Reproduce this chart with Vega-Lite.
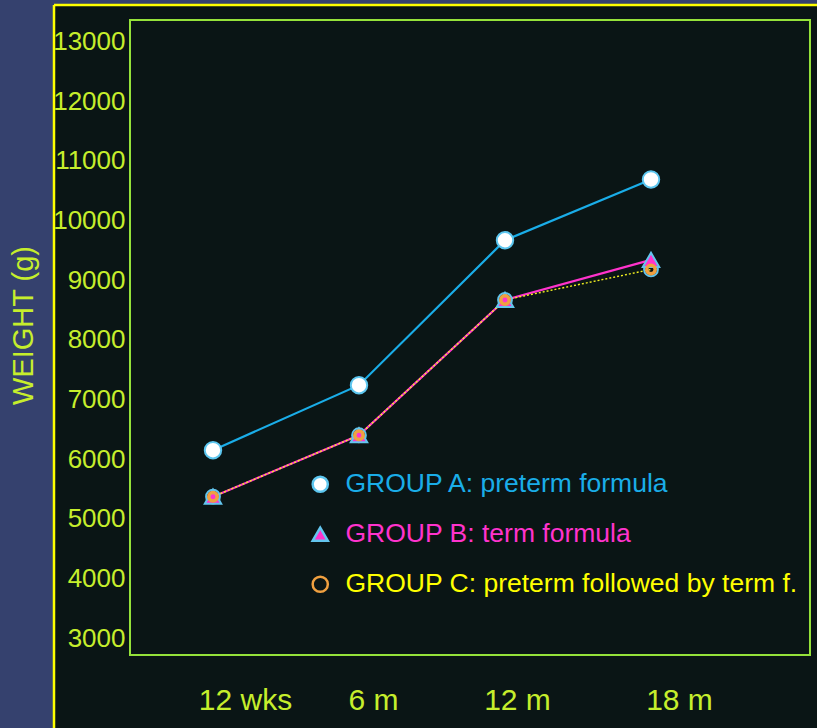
{
  "$schema": "https://vega.github.io/schema/vega-lite/v6.json",
  "width": 763,
  "height": 723,
  "autosize": "none",
  "padding": {"left": 54, "top": 5, "right": 0, "bottom": 0},
  "background": "#35416e",
  "config": {
    "view": {"fill": "#0a1515", "stroke": null},
    "font": "Liberation Sans"
  },
  "data": {
    "values": [
      {"g": "GROUP A: preterm formula", "t": 1, "w": 6150},
      {"g": "GROUP A: preterm formula", "t": 2, "w": 7240},
      {"g": "GROUP A: preterm formula", "t": 3, "w": 9670},
      {"g": "GROUP A: preterm formula", "t": 4, "w": 10690},
      {"g": "GROUP B: term formula", "t": 1, "w": 5370},
      {"g": "GROUP B: term formula", "t": 2, "w": 6400},
      {"g": "GROUP B: term formula", "t": 3, "w": 8670},
      {"g": "GROUP B: term formula", "t": 4, "w": 9340},
      {"g": "GROUP C: preterm followed by term f.", "t": 1, "w": 5370},
      {"g": "GROUP C: preterm followed by term f.", "t": 2, "w": 6400},
      {"g": "GROUP C: preterm followed by term f.", "t": 3, "w": 8670},
      {"g": "GROUP C: preterm followed by term f.", "t": 4, "w": 9180}
    ]
  },
  "layer": [
    {
      "data": {"values": [{"x1": 0.4315, "x2": 5.089, "y1": 2715, "y2": 13364}]},
      "mark": {"type": "rect", "fill": "transparent", "stroke": "#95e23a", "strokeWidth": 2},
      "encoding": {
        "x": {"field": "x1", "type": "quantitative", "scale": {"domain": [-0.089, 5.137], "nice": false, "zero": false}},
        "x2": {"field": "x2"},
        "y": {"field": "y1", "type": "quantitative", "scale": {"domain": [1491, 13615], "nice": false, "zero": false}},
        "y2": {"field": "y2"}
      }
    },
    {
      "data": {"values": [{"edge": -0.089}]},
      "mark": {"type": "rule", "color": "#ffff00", "strokeWidth": 2.5},
      "encoding": {
        "x": {"field": "edge", "type": "quantitative"}
      }
    },
    {
      "data": {"values": [{"edge": 13615}]},
      "mark": {"type": "rule", "color": "#ffff00", "strokeWidth": 2.5},
      "encoding": {
        "y": {"field": "edge", "type": "quantitative"}
      }
    },
    {
      "transform": [{"filter": "datum.g !== 'GROUP C: preterm followed by term f.'"}],
      "mark": {"type": "line", "strokeWidth": 2.2},
      "encoding": {
        "x": {
          "field": "t", "type": "quantitative",
          "axis": {
            "title": null, "values": [1, 2, 3, 4],
            "labelExpr": "datum.value == 1 ? '12 wks' : datum.value == 2 ? '6 m' : datum.value == 3 ? '12 m' : '18 m'",
            "labelFontSize": 30, "labelColor": "#c6ee2c", "labelFont": "Liberation Sans",
            "labelPadding": -28, "labelBaseline": "middle",
            "labelOffset": {"expr": "datum.value == 1 ? 32 : datum.value == 2 ? 14 : datum.value == 3 ? 12 : 28"},
            "ticks": false, "tickSize": 0, "domain": false, "grid": false, "labelOverlap": false, "labelFlush": false
          }
        },
        "y": {
          "field": "w", "type": "quantitative",
          "axis": {
            "title": "WEIGHT (g)", "titleFontSize": 29, "titleColor": "#c6ee2c", "titleFont": "Liberation Sans", "titleFontWeight": "normal",
            "titleX": -31, "titleY": 320, "titleAngle": 270, "titleAlign": "center", "titleBaseline": "middle",
            "values": [3000, 4000, 5000, 6000, 7000, 8000, 9000, 10000, 11000, 12000, 13000],
            "format": "d",
            "labelFontSize": 26, "labelColor": "#c6ee2c", "labelFont": "Liberation Sans",
            "labelPadding": -71, "labelAlign": "right", "labelBaseline": "middle",
            "ticks": false, "tickSize": 0, "domain": false, "grid": false, "labelOverlap": false, "labelFlush": false
          }
        },
        "color": {
          "field": "g", "type": "nominal",
          "scale": {
            "domain": ["GROUP A: preterm formula", "GROUP B: term formula"],
            "range": ["#1aade8", "#ff33cc"]
          },
          "legend": null
        }
      }
    },
    {
      "transform": [{"filter": "datum.g === 'GROUP C: preterm followed by term f.'"}],
      "mark": {"type": "line", "strokeWidth": 1.4, "strokeDash": [2, 2], "color": "#f2f020"},
      "encoding": {
        "x": {"field": "t", "type": "quantitative"},
        "y": {"field": "w", "type": "quantitative"}
      }
    },
    {
      "transform": [{"filter": "datum.g === 'GROUP C: preterm followed by term f.'"}],
      "mark": {"type": "point", "shape": "circle", "filled": false, "color": "#62c4ec", "strokeWidth": 2, "size": 190, "opacity": 1},
      "encoding": {
        "x": {"field": "t", "type": "quantitative"},
        "y": {"field": "w", "type": "quantitative"}
      }
    },
    {
      "mark": {"type": "point", "opacity": 1},
      "encoding": {
        "x": {"field": "t", "type": "quantitative"},
        "y": {"field": "w", "type": "quantitative"},
        "shape": {
          "field": "g", "type": "nominal",
          "scale": {"domain": ["GROUP A: preterm formula", "GROUP B: term formula", "GROUP C: preterm followed by term f."], "range": ["circle", "triangle-up", "circle"]},
          "legend": {
            "orient": "none", "legendX": 253, "legendY": 466, "title": null, "padding": 0,
            "labelFontSize": 26.5, "labelFont": "Liberation Sans", "labelOffset": 12, "rowPadding": 23, "symbolSize": 230, "symbolStrokeWidth": 2.5, "labelLimit": 700,
            "labelColor": {"expr": "datum.value === 'GROUP A: preterm formula' ? '#1aade8' : datum.value === 'GROUP B: term formula' ? '#ff33cc' : '#ffff00'"}
          }
        },
        "fill": {
          "field": "g", "type": "nominal",
          "scale": {"domain": ["GROUP A: preterm formula", "GROUP B: term formula", "GROUP C: preterm followed by term f."], "range": ["#ffffff", "#ff33cc", "transparent"]},
          "legend": {
            "orient": "none", "legendX": 253, "legendY": 466, "title": null, "padding": 0,
            "labelFontSize": 26.5, "labelFont": "Liberation Sans", "labelOffset": 12, "rowPadding": 23, "symbolSize": 230, "symbolStrokeWidth": 2.5, "labelLimit": 700,
            "labelColor": {"expr": "datum.value === 'GROUP A: preterm formula' ? '#1aade8' : datum.value === 'GROUP B: term formula' ? '#ff33cc' : '#ffff00'"}
          }
        },
        "stroke": {
          "field": "g", "type": "nominal",
          "scale": {"domain": ["GROUP A: preterm formula", "GROUP B: term formula", "GROUP C: preterm followed by term f."], "range": ["#5cc6ef", "#63c5ee", "#f0a040"]},
          "legend": {
            "orient": "none", "legendX": 253, "legendY": 466, "title": null, "padding": 0,
            "labelFontSize": 26.5, "labelFont": "Liberation Sans", "labelOffset": 12, "rowPadding": 23, "symbolSize": 230, "symbolStrokeWidth": 2.5, "labelLimit": 700,
            "labelColor": {"expr": "datum.value === 'GROUP A: preterm formula' ? '#1aade8' : datum.value === 'GROUP B: term formula' ? '#ff33cc' : '#ffff00'"}
          }
        },
        "size": {"condition": {"test": "datum.g === 'GROUP C: preterm followed by term f.'", "value": 72}, "value": 270},
        "strokeWidth": {"condition": {"test": "datum.g === 'GROUP C: preterm followed by term f.'", "value": 3.5}, "value": 2}
      }
    }
  ]
}
